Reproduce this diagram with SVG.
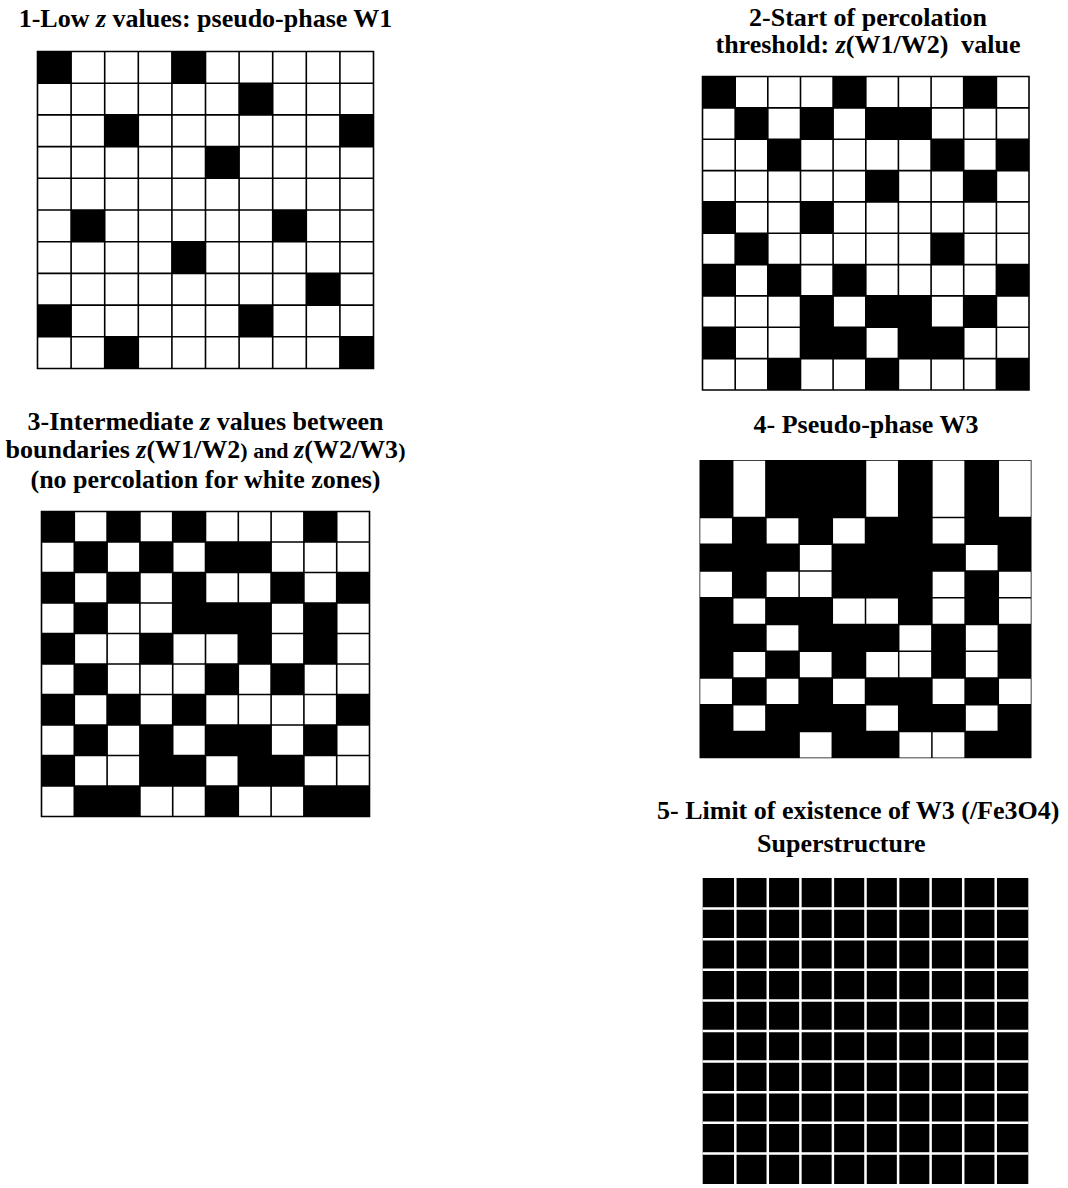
<svg xmlns="http://www.w3.org/2000/svg" width="1068" height="1188" viewBox="0 0 1068 1188">
<style>
.t{font-family:"Liberation Serif","Times New Roman",serif;font-weight:bold;font-size:26px;fill:#000}
.m{text-anchor:middle}
.i{font-style:italic}
.sm{font-size:22px}
.b{fill:#000}
.w{fill:#fff}
.gl{fill:none;stroke:#000;stroke-width:1.6}
.wl{fill:none;stroke:#fff;stroke-width:2.5}
</style>
<rect x="0" y="0" width="1068" height="1188" fill="#fff"/>

<g id="title1"><text class="t m" x="205.5" y="27">1-Low <tspan class="i">z</tspan> values: pseudo-phase W1</text></g>
<g id="title2"><text class="t m" x="868" y="26">2-Start of percolation</text><text class="t m" x="868" y="53" style="white-space:pre">threshold: <tspan class="i">z</tspan>(W1/W2)  value</text></g>
<g id="title3">
<text class="t m" x="205.5" y="430">3-Intermediate <tspan class="i">z</tspan> values between</text>
<text class="t m" x="205.5" y="458">boundaries <tspan class="i">z</tspan>(W1/W2<tspan class="sm">) and </tspan><tspan class="i">z</tspan>(W2/W3<tspan class="sm">)</tspan></text>
<text class="t m" x="205.5" y="488">(no percolation for white zones)</text>
</g>
<g id="title4"><text class="t m" x="866" y="433">4- Pseudo-phase W3</text></g>
<g id="title5"><text class="t" x="657" y="819">5- Limit of existence of W3 (/Fe3O4)</text><text class="t" x="757" y="852">Superstructure</text></g>

<g id="grid1">
<rect class="w" x="37.5" y="51.5" width="336" height="317"/>
<g class="b">
<rect x="37.5" y="51.5" width="33.6" height="31.7"/>
<rect x="171.9" y="51.5" width="33.6" height="31.7"/>
<rect x="239.1" y="83.2" width="33.6" height="31.7"/>
<rect x="104.7" y="114.9" width="33.6" height="31.7"/>
<rect x="339.9" y="114.9" width="33.6" height="31.7"/>
<rect x="205.5" y="146.6" width="33.6" height="31.7"/>
<rect x="71.1" y="210" width="33.6" height="31.7"/>
<rect x="272.7" y="210" width="33.6" height="31.7"/>
<rect x="171.9" y="241.7" width="33.6" height="31.7"/>
<rect x="306.3" y="273.4" width="33.6" height="31.7"/>
<rect x="37.5" y="305.1" width="33.6" height="31.7"/>
<rect x="239.1" y="305.1" width="33.6" height="31.7"/>
<rect x="104.7" y="336.8" width="33.6" height="31.7"/>
<rect x="339.9" y="336.8" width="33.6" height="31.7"/>
</g>
<path class="gl" d="M37.5 51.5H373.5V368.5H37.5Z M71.1 51.5V368.5 M104.7 51.5V368.5 M138.3 51.5V368.5 M171.9 51.5V368.5 M205.5 51.5V368.5 M239.1 51.5V368.5 M272.7 51.5V368.5 M306.3 51.5V368.5 M339.9 51.5V368.5 M37.5 83.2H373.5 M37.5 114.9H373.5 M37.5 146.6H373.5 M37.5 178.3H373.5 M37.5 210H373.5 M37.5 241.7H373.5 M37.5 273.4H373.5 M37.5 305.1H373.5 M37.5 336.8H373.5"/>
</g>

<g id="grid2">
<rect class="w" x="702.5" y="76.5" width="326.5" height="313.5"/>
<g class="b">
<rect x="702.5" y="76.5" width="32.7" height="31.4"/>
<rect x="833.1" y="76.5" width="32.7" height="31.4"/>
<rect x="963.7" y="76.5" width="32.7" height="31.4"/>
<rect x="735.2" y="107.9" width="32.7" height="31.4"/>
<rect x="800.5" y="107.9" width="32.7" height="31.4"/>
<rect x="865.8" y="107.9" width="65.3" height="31.4"/>
<rect x="767.8" y="139.2" width="32.7" height="31.4"/>
<rect x="931.1" y="139.2" width="32.7" height="31.4"/>
<rect x="996.4" y="139.2" width="32.7" height="31.4"/>
<rect x="865.8" y="170.6" width="32.7" height="31.4"/>
<rect x="963.7" y="170.6" width="32.7" height="31.4"/>
<rect x="702.5" y="201.9" width="32.7" height="31.4"/>
<rect x="800.5" y="201.9" width="32.7" height="31.4"/>
<rect x="735.2" y="233.3" width="32.7" height="31.4"/>
<rect x="931.1" y="233.3" width="32.7" height="31.4"/>
<rect x="702.5" y="264.6" width="32.7" height="31.4"/>
<rect x="767.8" y="264.6" width="32.7" height="31.4"/>
<rect x="833.1" y="264.6" width="32.7" height="31.4"/>
<rect x="996.4" y="264.6" width="32.7" height="31.4"/>
<rect x="800.5" y="295.9" width="32.7" height="31.4"/>
<rect x="865.8" y="295.9" width="65.3" height="31.4"/>
<rect x="963.7" y="295.9" width="32.7" height="31.4"/>
<rect x="702.5" y="327.3" width="32.7" height="31.4"/>
<rect x="800.5" y="327.3" width="65.3" height="31.4"/>
<rect x="898.4" y="327.3" width="65.3" height="31.4"/>
<rect x="767.8" y="358.6" width="32.7" height="31.4"/>
<rect x="865.8" y="358.6" width="32.7" height="31.4"/>
<rect x="996.4" y="358.6" width="32.7" height="31.4"/>
</g>
<path class="gl" d="M702.5 76.5H1029V390H702.5Z M735.2 76.5V390 M767.8 76.5V390 M800.5 76.5V390 M833.1 76.5V390 M865.8 76.5V390 M898.4 76.5V390 M931.1 76.5V390 M963.7 76.5V390 M996.4 76.5V390 M702.5 107.9H1029 M702.5 139.2H1029 M702.5 170.6H1029 M702.5 201.9H1029 M702.5 233.3H1029 M702.5 264.6H1029 M702.5 295.9H1029 M702.5 327.3H1029 M702.5 358.6H1029"/>
</g>

<g id="grid3">
<rect class="w" x="41.5" y="511.5" width="328" height="305"/>
<g class="b">
<rect x="41.5" y="511.5" width="32.8" height="30.5"/>
<rect x="107.1" y="511.5" width="32.8" height="30.5"/>
<rect x="172.7" y="511.5" width="32.8" height="30.5"/>
<rect x="303.9" y="511.5" width="32.8" height="30.5"/>
<rect x="74.3" y="542" width="32.8" height="30.5"/>
<rect x="139.9" y="542" width="32.8" height="30.5"/>
<rect x="205.5" y="542" width="65.6" height="30.5"/>
<rect x="41.5" y="572.5" width="32.8" height="30.5"/>
<rect x="107.1" y="572.5" width="32.8" height="30.5"/>
<rect x="172.7" y="572.5" width="32.8" height="30.5"/>
<rect x="271.1" y="572.5" width="32.8" height="30.5"/>
<rect x="336.7" y="572.5" width="32.8" height="30.5"/>
<rect x="74.3" y="603" width="32.8" height="30.5"/>
<rect x="172.7" y="603" width="98.4" height="30.5"/>
<rect x="303.9" y="603" width="32.8" height="30.5"/>
<rect x="41.5" y="633.5" width="32.8" height="30.5"/>
<rect x="139.9" y="633.5" width="32.8" height="30.5"/>
<rect x="238.3" y="633.5" width="32.8" height="30.5"/>
<rect x="303.9" y="633.5" width="32.8" height="30.5"/>
<rect x="74.3" y="664" width="32.8" height="30.5"/>
<rect x="205.5" y="664" width="32.8" height="30.5"/>
<rect x="271.1" y="664" width="32.8" height="30.5"/>
<rect x="41.5" y="694.5" width="32.8" height="30.5"/>
<rect x="107.1" y="694.5" width="32.8" height="30.5"/>
<rect x="172.7" y="694.5" width="32.8" height="30.5"/>
<rect x="336.7" y="694.5" width="32.8" height="30.5"/>
<rect x="74.3" y="725" width="32.8" height="30.5"/>
<rect x="139.9" y="725" width="32.8" height="30.5"/>
<rect x="205.5" y="725" width="65.6" height="30.5"/>
<rect x="303.9" y="725" width="32.8" height="30.5"/>
<rect x="41.5" y="755.5" width="32.8" height="30.5"/>
<rect x="139.9" y="755.5" width="65.6" height="30.5"/>
<rect x="238.3" y="755.5" width="65.6" height="30.5"/>
<rect x="74.3" y="786" width="65.6" height="30.5"/>
<rect x="205.5" y="786" width="32.8" height="30.5"/>
<rect x="303.9" y="786" width="65.6" height="30.5"/>
</g>
<path class="gl" d="M41.5 511.5H369.5V816.5H41.5Z M74.3 511.5V816.5 M107.1 511.5V816.5 M139.9 511.5V816.5 M172.7 511.5V816.5 M205.5 511.5V816.5 M238.3 511.5V816.5 M271.1 511.5V816.5 M303.9 511.5V816.5 M336.7 511.5V816.5 M41.5 542H369.5 M41.5 572.5H369.5 M41.5 603H369.5 M41.5 633.5H369.5 M41.5 664H369.5 M41.5 694.5H369.5 M41.5 725H369.5 M41.5 755.5H369.5 M41.5 786H369.5"/>
</g>

<g id="grid4">
<rect class="b" x="699.5" y="460" width="332" height="298.25"/>
<g class="w">
<rect x="733.45" y="460.75" width="31.7" height="56"/>
<rect x="866.25" y="460.75" width="31.7" height="56"/>
<rect x="932.65" y="460.75" width="31.7" height="56"/>
<rect x="999.05" y="460.75" width="31.7" height="56"/>
<rect x="700.25" y="518.25" width="31.7" height="25.25"/>
<rect x="766.65" y="518.25" width="31.7" height="25.25"/>
<rect x="833.05" y="518.25" width="31.7" height="25.25"/>
<rect x="932.65" y="518.25" width="31.7" height="25.25"/>
<rect x="799.85" y="545" width="31.7" height="25.25"/>
<rect x="965.85" y="545" width="31.7" height="25.25"/>
<rect x="700.25" y="571.75" width="31.7" height="25.25"/>
<rect x="766.65" y="571.75" width="31.7" height="25.25"/>
<rect x="799.85" y="571.75" width="31.7" height="25.25"/>
<rect x="932.65" y="571.75" width="31.7" height="25.25"/>
<rect x="999.05" y="571.75" width="31.7" height="25.25"/>
<rect x="733.45" y="598.5" width="31.7" height="25.25"/>
<rect x="833.05" y="598.5" width="31.7" height="25.25"/>
<rect x="866.25" y="598.5" width="31.7" height="25.25"/>
<rect x="932.65" y="598.5" width="31.7" height="25.25"/>
<rect x="999.05" y="598.5" width="31.7" height="25.25"/>
<rect x="766.65" y="625.25" width="31.7" height="25.25"/>
<rect x="899.45" y="625.25" width="31.7" height="25.25"/>
<rect x="965.85" y="625.25" width="31.7" height="25.25"/>
<rect x="733.45" y="652" width="31.7" height="25.25"/>
<rect x="799.85" y="652" width="31.7" height="25.25"/>
<rect x="866.25" y="652" width="31.7" height="25.25"/>
<rect x="899.45" y="652" width="31.7" height="25.25"/>
<rect x="965.85" y="652" width="31.7" height="25.25"/>
<rect x="700.25" y="678.75" width="31.7" height="25.25"/>
<rect x="766.65" y="678.75" width="31.7" height="25.25"/>
<rect x="833.05" y="678.75" width="31.7" height="25.25"/>
<rect x="932.65" y="678.75" width="31.7" height="25.25"/>
<rect x="999.05" y="678.75" width="31.7" height="25.25"/>
<rect x="733.45" y="705.5" width="31.7" height="25.25"/>
<rect x="866.25" y="705.5" width="31.7" height="25.25"/>
<rect x="965.85" y="705.5" width="31.7" height="25.25"/>
<rect x="799.85" y="732.25" width="31.7" height="25.25"/>
<rect x="899.45" y="732.25" width="31.7" height="25.25"/>
<rect x="932.65" y="732.25" width="31.7" height="25.25"/>
</g>
</g>

<g id="grid5">
<rect class="b" x="702.7" y="878" width="325.6" height="306"/>
<path class="wl" d="M735.3 878V1184 M767.8 878V1184 M800.4 878V1184 M832.9 878V1184 M865.5 878V1184 M898.1 878V1184 M930.6 878V1184 M963.2 878V1184 M995.7 878V1184 M702.7 908.6H1028.3 M702.7 939.2H1028.3 M702.7 969.8H1028.3 M702.7 1000.4H1028.3 M702.7 1031H1028.3 M702.7 1061.6H1028.3 M702.7 1092.2H1028.3 M702.7 1122.8H1028.3 M702.7 1153.4H1028.3"/>
</g>
</svg>
